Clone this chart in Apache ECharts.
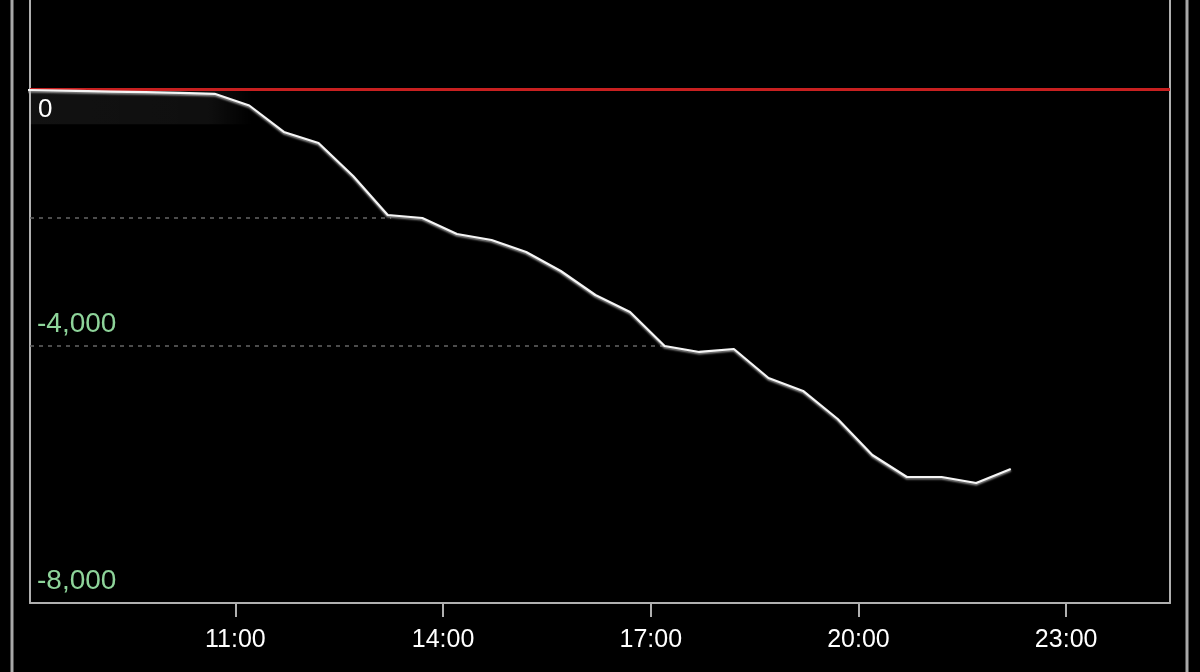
<!DOCTYPE html>
<html>
<head>
<meta charset="utf-8">
<script src="https://cdn.jsdelivr.net/npm/echarts@6/dist/echarts.min.js"></script>
<style>
html,body{margin:0;padding:0;background:#000;}
#c{width:1200px;height:672px;}
</style>
</head>
<body>
<div id="c"></div>
<script>
// ---- data ----
const times = ["07:42","08:12","08:42","09:12","09:42","10:12","10:42","11:12","11:42","12:12","12:42","13:12","13:42","14:12","14:42","15:12","15:42","16:12","16:42","17:12","17:42","18:12","18:42","19:12","19:42","20:12","20:42","21:12","21:42","22:12"];
const values = [-10,-20,-30,-40,-50,-60,-75,-257,-669,-840,-1354,-1961,-2008,-2257,-2350,-2537,-2833,-3206,-3471,-4000,-4093,-4047,-4498,-4700,-5136,-5696,-6039,-6039,-6132,-5914];
const xTickLabels = ["11:00","14:00","17:00","20:00","23:00"];
const yGreenTicks = [-4000,-8000];
const yZeroTick = [0];
const guideLevels = [-2000,-4000];
const guideEndTimes = ["13:15","17:12"];
const xRange = ["08:02","24:30"];
const yRange = [-8000,1385];

const toMin = s => { const [h,m] = s.split(":").map(Number); return h*60+m; };
const seriesData = times.map((t,i)=>[toMin(t), values[i]]);
const xMin = toMin(xRange[0]), xMax = toMin(xRange[1]);
const xTicks = xTickLabels.map(toMin);

const FONT = "'Liberation Sans', Arial, sans-serif";
const FRAME = '#b0b0b0';
const chart = echarts.init(document.getElementById('c'), null, {renderer:'canvas'});
chart.setOption({
  backgroundColor:'#000',
  animation:false,
  grid:{left:30,right:30,top:0,bottom:69,show:false},
  xAxis:{
    type:'value',min:xMin,max:xMax,
    axisLine:{show:true,onZero:false,lineStyle:{color:FRAME,width:2}},
    axisTick:{show:true,customValues:xTicks,length:14,lineStyle:{color:FRAME,width:2}},
    axisLabel:{customValues:xTicks,color:'#fff',fontSize:25,fontFamily:FONT,margin:25,
      formatter:v=>{const h=Math.floor(v/60),m=v%60;return h+":"+String(m).padStart(2,'0');}},
    splitLine:{show:false}
  },
  yAxis:[{
    type:'value',min:yRange[0],max:yRange[1],position:'left',
    axisLine:{show:true,onZero:false,lineStyle:{color:FRAME,width:2}},axisTick:{show:false},splitLine:{show:false},
    axisLabel:{customValues:yGreenTicks,inside:true,margin:7,color:'#8ed49a',fontSize:28,fontFamily:FONT,
      verticalAlign:'bottom',padding:[0,0,8,0],
      formatter:v=>v.toLocaleString('en-US')}
  },{
    type:'value',min:yRange[0],max:yRange[1],position:'left',
    axisLine:{show:false},axisTick:{show:false},splitLine:{show:false},
    axisLabel:{customValues:yZeroTick,inside:true,margin:8,color:'#fff',fontSize:26,fontFamily:FONT,
      verticalAlign:'top',padding:[8,0,0,0],formatter:v=>String(v)}
  },{
    type:'value',min:yRange[0],max:yRange[1],position:'right',
    axisLine:{show:true,onZero:false,lineStyle:{color:FRAME,width:2}},axisTick:{show:false},splitLine:{show:false},
    axisLabel:{show:false}
  }],
  graphic:[
    {type:'line',shape:{x1:12,y1:0,x2:12,y2:672},style:{stroke:'#a8a8a8',lineWidth:3},silent:true},
    {type:'line',shape:{x1:1187,y1:0,x2:1187,y2:672},style:{stroke:'#a8a8a8',lineWidth:3},silent:true}
  ],
  series:[{
    type:'line',
    data:seriesData,
    showSymbol:false,
    symbol:'none',
    clip:true,
    z:5,
    lineStyle:{color:'#f6f6f6',width:2.2,shadowColor:'rgba(170,170,170,0.9)',shadowBlur:2,shadowOffsetY:1.5},
    markArea:{
      silent:true,
      itemStyle:{color:{type:'linear',x:0,y:0,x2:1,y2:0,colorStops:[
        {offset:0,color:'rgba(255,255,255,0.07)'},{offset:0.8,color:'rgba(255,255,255,0.06)'},{offset:1,color:'rgba(255,255,255,0)'}]}},
      data:[[{coord:[xMin,0]},{coord:[toMin("11:15"),-550]}]]
    },
    markLine:{
      silent:true,symbol:['none','none'],label:{show:false},animation:false,
      data:[
        {yAxis:0,lineStyle:{color:'#c82020',width:3,type:'solid'}},
        ...guideLevels.map((lv,i)=>[
          {coord:[xMin,lv],lineStyle:{color:'#666',width:1.5,type:[4,5]}},
          {coord:[toMin(guideEndTimes[i]),lv]}
        ])
      ]
    }
  }]
});
</script>
</body>
</html>
